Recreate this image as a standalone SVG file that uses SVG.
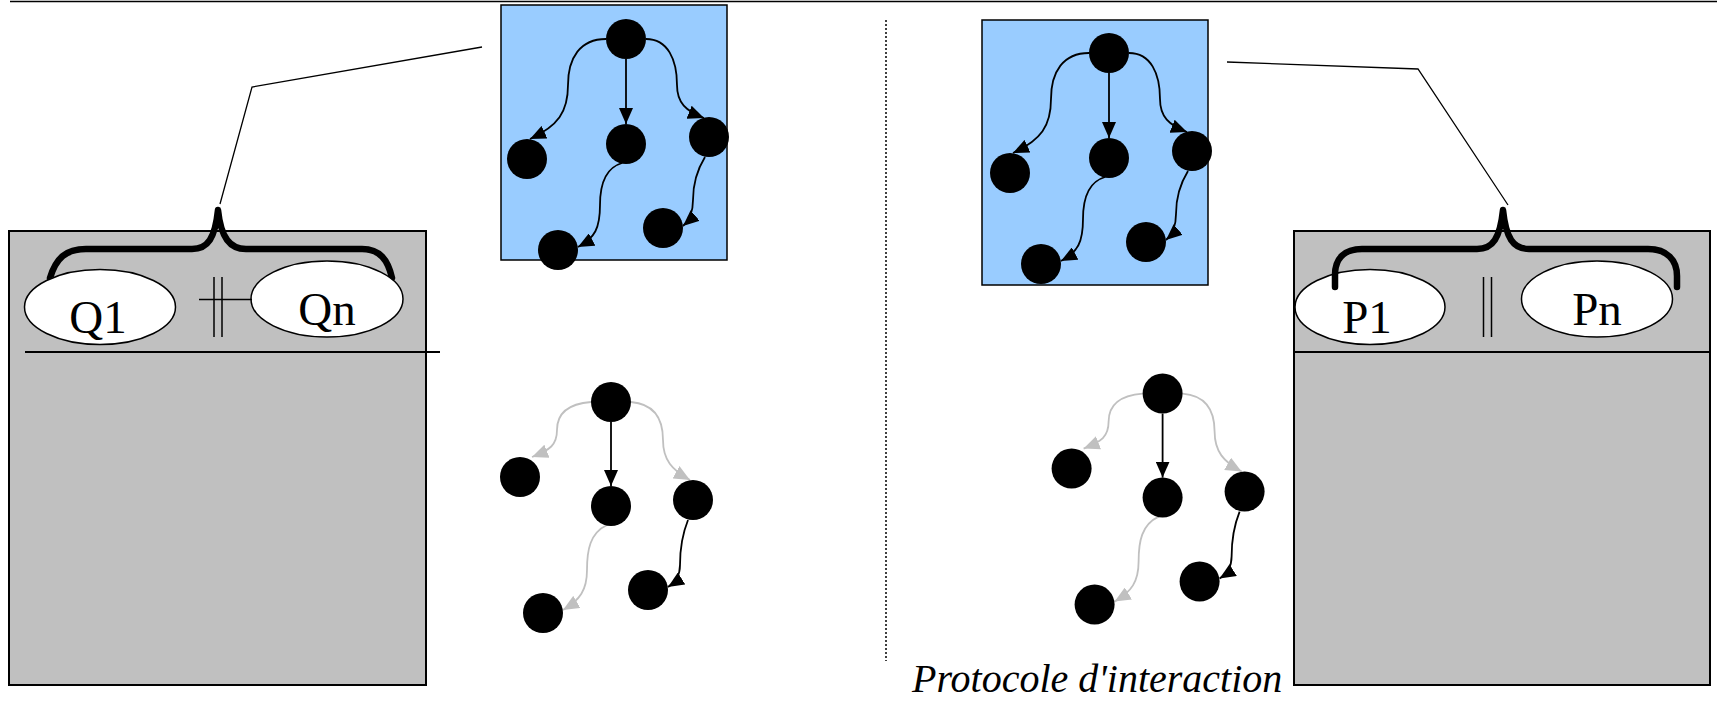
<svg xmlns="http://www.w3.org/2000/svg" width="1717" height="701" viewBox="0 0 1717 701">
<style>
.box{fill:#C0C0C0;stroke:#000;stroke-width:2}
.panel{fill:#99CCFF;stroke:#000;stroke-width:1.5}
.ell{fill:#fff;stroke:#000;stroke-width:1.5}
.lbl{font-family:"Liberation Serif","Times New Roman",serif;font-size:47px;fill:#000;text-anchor:middle}
.cap{font-family:"Liberation Serif","Times New Roman",serif;font-size:40px;font-style:italic;fill:#000}
.brace{fill:none;stroke:#000;stroke-width:6.5;stroke-linecap:round;stroke-linejoin:round}
.thin{fill:none;stroke:#000;stroke-width:1.3}
.node{fill:#000}
.eb{fill:none;stroke:#000;stroke-width:1.8}
.eg{fill:none;stroke:#C0C0C0;stroke-width:1.8}
</style>
<defs>
<marker id="ab" viewBox="0 0 16 14" refX="16" refY="7" markerWidth="16" markerHeight="14" markerUnits="userSpaceOnUse" orient="auto"><path d="M0,0 L16,7 L0,14 Z" fill="#000"/></marker>
<marker id="ag" viewBox="0 0 16 14" refX="16" refY="7" markerWidth="16" markerHeight="14" markerUnits="userSpaceOnUse" orient="auto"><path d="M0,0 L16,7 L0,14 Z" fill="#C0C0C0"/></marker>
</defs>

<line x1="10" y1="1.5" x2="1717" y2="1.5" stroke="#000" stroke-width="1.5"/>
<line x1="886" y1="20" x2="886" y2="661" stroke="#000" stroke-width="1.5" stroke-dasharray="2,2"/>

<!-- left agent -->
<g id="agentQ">
<rect class="box" x="9" y="231" width="417" height="454"/>
<line x1="25" y1="352" x2="440" y2="352" stroke="#000" stroke-width="2"/>
<path class="brace" d="M50,278 C56,258 66,249 86,249 L192,249 C208,249 215,238 218,210 C221,238 230,249 246,249 L362,249 C380,249 388,260 392,278"/>
<g id="q1"><ellipse class="ell" cx="100" cy="307" rx="75.5" ry="37.5"/><text class="lbl" x="98" y="333">Q1</text></g>
<g id="qn"><ellipse class="ell" cx="327" cy="299" rx="76" ry="38"/><text class="lbl" x="327" y="325">Qn</text></g>
<line x1="214" y1="277" x2="214" y2="337" stroke="#000" stroke-width="1.5"/>
<line x1="222" y1="277" x2="222" y2="337" stroke="#000" stroke-width="1.5"/>
<line x1="199" y1="299.5" x2="252" y2="299.5" stroke="#000" stroke-width="1.5"/>
</g>

<!-- right agent -->
<g id="agentP">
<rect class="box" x="1294" y="231" width="416" height="454"/>
<line x1="1294" y1="352" x2="1710" y2="352" stroke="#000" stroke-width="2"/>
<g id="p1"><ellipse class="ell" cx="1370" cy="307" rx="75" ry="37.5"/><text class="lbl" x="1367" y="333">P1</text></g>
<g id="pn"><ellipse class="ell" cx="1597" cy="299" rx="75.5" ry="38"/><text class="lbl" x="1597" y="325">Pn</text></g>
<path class="brace" d="M1335,287 L1335,275 C1335,258 1345,249 1362,249 L1477,249 C1493,249 1500,238 1503,210 C1506,238 1513,249 1529,249 L1648,249 C1667,249 1677,260 1677,276 L1677,287"/>
<line x1="1483.5" y1="277" x2="1483.5" y2="337" stroke="#000" stroke-width="1.5"/>
<line x1="1491.5" y1="277" x2="1491.5" y2="337" stroke="#000" stroke-width="1.5"/>
</g>

<!-- panels -->
<rect id="panelL" class="panel" x="501" y="5" width="226" height="255"/>
<rect id="panelR" class="panel" x="982" y="20" width="226" height="265"/>

<!-- connectors -->
<g id="connectors">
<polyline class="thin" points="220,204 252,87 482,47"/>
<polyline class="thin" points="1508,205 1418,69 1227,62"/>
<g id="edgesTL">
<path class="eb" d="M606,39 C580,39 568,58 568,85 C568,112 558,126 530,139" marker-end="url(#ab)"/>
<path class="eb" d="M626,59 L626,124" marker-end="url(#ab)"/>
<path class="eb" d="M646,39 C668,39 677,60 677,85 C677,103 686,111 704,118" marker-end="url(#ab)"/>
<path class="eb" d="M622,163 C605,168 600,185 600,205 C600,228 595,238 578,247" marker-end="url(#ab)"/>
<path class="eb" d="M705,157 C697,170 693,185 693,200 C693,212 690,220 683,226" marker-end="url(#ab)"/>
</g>
<g id="edgesTR" transform="translate(483,14)">
<path class="eb" d="M606,39 C580,39 568,58 568,85 C568,112 558,126 530,139" marker-end="url(#ab)"/>
<path class="eb" d="M626,59 L626,124" marker-end="url(#ab)"/>
<path class="eb" d="M646,39 C668,39 677,60 677,85 C677,103 686,111 704,118" marker-end="url(#ab)"/>
<path class="eb" d="M622,163 C605,168 600,185 600,205 C600,228 595,238 578,247" marker-end="url(#ab)"/>
<path class="eb" d="M705,157 C697,170 693,185 693,200 C693,212 690,220 683,226" marker-end="url(#ab)"/>
</g>
<g id="edgesBL">
<path class="eg" d="M591,402 C566,404 557,415 557,430 C557,445 550,450 532,457" marker-end="url(#ag)"/>
<path class="eb" d="M611,422 L611,486" marker-end="url(#ab)"/>
<path class="eg" d="M631,402 C655,404 663,420 663,440 C663,460 672,470 690,480" marker-end="url(#ag)"/>
<path class="eg" d="M607,525 C590,533 587,550 587,570 C587,590 580,600 563,610" marker-end="url(#ag)"/>
<path class="eb" d="M688,520 C682,535 680,550 680,565 C680,575 676,582 668,587" marker-end="url(#ab)"/>
</g>
<g id="edgesBR" transform="translate(551.6,-8.4)">
<path class="eg" d="M591,402 C566,404 557,415 557,430 C557,445 550,450 532,457" marker-end="url(#ag)"/>
<path class="eb" d="M611,422 L611,486" marker-end="url(#ab)"/>
<path class="eg" d="M631,402 C655,404 663,420 663,440 C663,460 672,470 690,480" marker-end="url(#ag)"/>
<path class="eg" d="M607,525 C590,533 587,550 587,570 C587,590 580,600 563,610" marker-end="url(#ag)"/>
<path class="eb" d="M688,520 C682,535 680,550 680,565 C680,575 676,582 668,587" marker-end="url(#ab)"/>
</g>
</g>

<!-- graph nodes -->
<g id="graphTL">
<g id="tl0"><circle class="node" cx="626" cy="39" r="20"/></g>
<g id="tl1"><circle class="node" cx="527" cy="159" r="20"/></g>
<g id="tl2"><circle class="node" cx="626" cy="144" r="20"/></g>
<g id="tl3"><circle class="node" cx="709" cy="137" r="20"/></g>
<g id="tl4"><circle class="node" cx="558" cy="250" r="20"/></g>
<g id="tl5"><circle class="node" cx="663" cy="228" r="20"/></g>
</g>
<g id="graphTR" transform="translate(483,14)">
<g id="tr0"><circle class="node" cx="626" cy="39" r="20"/></g>
<g id="tr1"><circle class="node" cx="527" cy="159" r="20"/></g>
<g id="tr2"><circle class="node" cx="626" cy="144" r="20"/></g>
<g id="tr3"><circle class="node" cx="709" cy="137" r="20"/></g>
<g id="tr4"><circle class="node" cx="558" cy="250" r="20"/></g>
<g id="tr5"><circle class="node" cx="663" cy="228" r="20"/></g>
</g>
<g id="graphBL">
<g id="bl0"><circle class="node" cx="611" cy="402" r="20"/></g>
<g id="bl1"><circle class="node" cx="520" cy="477" r="20"/></g>
<g id="bl2"><circle class="node" cx="611" cy="506" r="20"/></g>
<g id="bl3"><circle class="node" cx="693" cy="500" r="20"/></g>
<g id="bl4"><circle class="node" cx="543" cy="613" r="20"/></g>
<g id="bl5"><circle class="node" cx="648" cy="590" r="20"/></g>
</g>
<g id="graphBR" transform="translate(551.6,-8.4)">
<g id="br0"><circle class="node" cx="611" cy="402" r="20"/></g>
<g id="br1"><circle class="node" cx="520" cy="477" r="20"/></g>
<g id="br2"><circle class="node" cx="611" cy="506" r="20"/></g>
<g id="br3"><circle class="node" cx="693" cy="500" r="20"/></g>
<g id="br4"><circle class="node" cx="543" cy="613" r="20"/></g>
<g id="br5"><circle class="node" cx="648" cy="590" r="20"/></g>
</g>

<text id="caption" class="cap" x="912" y="692">Protocole d'interaction</text>
</svg>
